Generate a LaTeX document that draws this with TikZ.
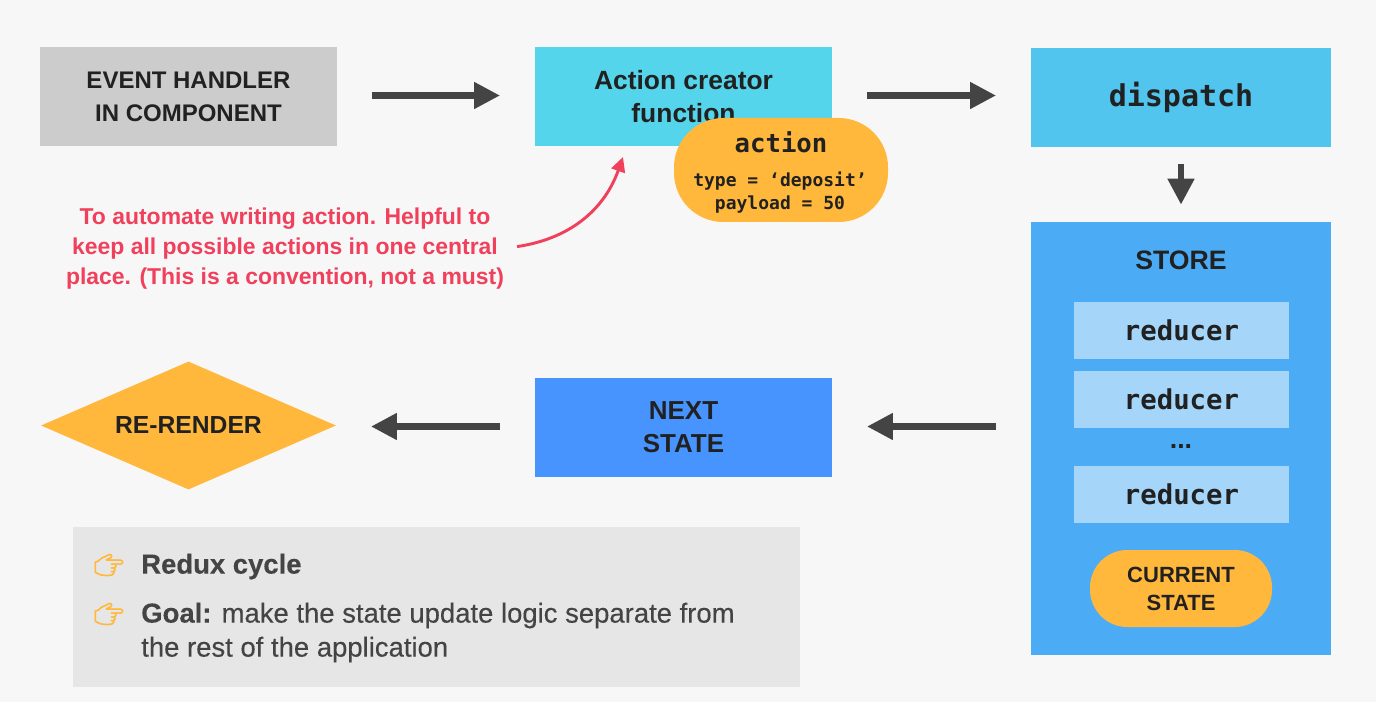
\documentclass[tikz,border=0pt]{standalone}
\usepackage{fontspec}
\usetikzlibrary{arrows.meta,shapes.geometric}
\setmainfont{Liberation Sans}
\setmonofont{DejaVu Sans Mono}
\newfontfamily\emojifont[FakeBold=2.5]{Noto Emoji}
\newfontfamily\mediumfont[FakeBold=0.3]{Liberation Sans}
\definecolor{pagebg}{HTML}{F7F7F7}
\definecolor{inkdark}{HTML}{212121}
\definecolor{inkgrey}{HTML}{444444}
\definecolor{handlergrey}{HTML}{CCCCCC}
\definecolor{creatorcyan}{HTML}{55D5EB}
\definecolor{dispatchblue}{HTML}{51C5ED}
\definecolor{storeblue}{HTML}{4BACF5}
\definecolor{nextblue}{HTML}{4894FF}
\definecolor{reducerblue}{HTML}{A5D6FA}
\definecolor{pillyellow}{HTML}{FFB83B}
\definecolor{noteboxgrey}{HTML}{E6E6E6}
\definecolor{notered}{HTML}{F0405C}
\tikzset{
  flowbox/.style={rectangle,minimum width=222.75pt,minimum height=74.25pt,inner sep=0pt,align=center,text=inkdark,font=\fontsize{18.5}{24.75}\selectfont\bfseries},
  reducerbox/.style={rectangle,fill=reducerblue,minimum width=161.25pt,minimum height=42.75pt,inner sep=0pt,text=inkdark,font=\fontsize{20.5}{24}\selectfont\ttfamily\bfseries},
  pill/.style={rectangle,fill=pillyellow,inner sep=0pt,align=center,text=inkdark},
  flow/.style={-{Triangle[length=19.5pt,width=19pt]},line width=5pt,draw=inkgrey},
  notetext/.style={text=inkgrey,anchor=west,inner sep=0pt,font=\fontsize{20.6}{25.5}\selectfont\mediumfont},
  hand/.style={text=pillyellow,inner sep=0pt,font=\fontsize{18}{18}\selectfont\emojifont},
}
\begin{document}
\begin{tikzpicture}[x=0.75pt,y=0.75pt,yscale=-1,xscale=1]
\useasboundingbox (0,0) rectangle (1376,702);
\fill[pagebg] (0,0) rectangle (1376,702);

% top row
\node (handler) [flowbox,fill=handlergrey,font=\fontsize{18}{24.75}\selectfont\bfseries,text depth=0pt] at (188.5,97) {EVENT HANDLER\\IN COMPONENT};
\node (creator) [flowbox,fill=creatorcyan,font=\fontsize{19.8}{24.75}\selectfont\bfseries] at (683.5,97) {Action creator\\function};
\node (dispatch) [flowbox,fill=dispatchblue,minimum width=225pt,font=\fontsize{22.5}{24}\selectfont\ttfamily\bfseries] at (1181,97.5) {dispatch};
\node (action) [pill,minimum width=160.5pt,minimum height=78pt,rounded corners=37pt] at (781,170) {};
\node (actionname) [text=inkdark,inner sep=0pt,font=\fontsize{19.25}{22}\selectfont\ttfamily\bfseries] at (781,142) {action};
\node (actionbody) [text=inkdark,inner sep=0pt,align=center,font=\fontsize{13.5}{17.25}\selectfont\ttfamily\bfseries] at (780,192.5) {type = ‘deposit’\\payload = 50};

% store
\node (store) [rectangle,fill=storeblue,minimum width=225pt,minimum height=324.75pt,inner sep=0pt] at (1181,438.5) {};
\node (storename) [text=inkdark,inner sep=0pt,font=\fontsize{20}{24}\selectfont\bfseries] at (1181,260) {STORE};
\node (reducera) [reducerbox] at (1181.5,330) {reducer};
\node (reducerb) [reducerbox] at (1181.5,399) {reducer};
\node (dots) [text=inkdark,inner sep=0pt,font=\fontsize{20}{20}\selectfont\bfseries] at (1181,447) {...};
\node (reducerc) [reducerbox] at (1181.5,494) {reducer};
\node (current) [pill,minimum width=136.5pt,minimum height=57.75pt,rounded corners=28pt,font=\fontsize{16.5}{21}\selectfont\bfseries] at (1181,588.5) {CURRENT\\STATE};

% bottom row
\node (next) [flowbox,fill=nextblue,font=\fontsize{19.5}{24.75}\selectfont\bfseries] at (683.5,427.5) {NEXT\\STATE};
\node (render) [diamond,fill=pillyellow,aspect=2.3,minimum width=221.25pt,minimum height=96pt,inner sep=0pt,text=inkdark,font=\fontsize{18.5}{24}\selectfont\bfseries] at (188.5,425.5) {RE-RENDER};

% connectors
\draw[flow,shorten <=26pt,shorten >=26pt] (handler.east |- 0,95.5) -- (creator.west |- 0,95.5);
\draw[flow,shorten <=26pt,shorten >=26pt] (creator.east |- 0,95.5) -- (dispatch.west |- 0,95.5);
\draw[flow,shorten <=12.75pt,shorten >=12.75pt] (dispatch) -- (store);
\draw[flow,shorten <=26pt,shorten >=26pt] (store.west |- 0,426.5) -- (next.east |- 0,426.5);
\draw[flow,shorten <=26pt,shorten >=26pt] (next.west |- 0,426.5) -- (render.east |- 0,426.5);

% red note
\node (why) [text=notered,inner sep=0pt,align=center,font=\fontsize{17.2}{22.5}\selectfont\bfseries] at (285,249) {To automate writing action. Helpful to\\keep all possible actions in one central\\place. (This is a convention, not a must)};
\coordinate (whytip) at (623,157);
\draw[-{Triangle[length=11pt,width=10.5pt]},line width=2.2pt,notered,shorten <=9.75pt] (why.east |- 0,248.5) .. controls (575,238) and (606,205) .. (whytip);

% goal box
\node (goalbox) [rectangle,fill=noteboxgrey,minimum width=545.25pt,minimum height=120pt,inner sep=0pt] at (436.5,607) {};
\node (handa) [hand] at (109,565) {\char"1F449};
\node (handb) [hand] at (109,614) {\char"1F449};
\node (redux) [notetext] at (141,566.5) {\bfseries Redux cycle};
\node (goal) [notetext,align=left] at (141,632.5) {\textbf{Goal:} make the state update logic separate from\\the rest of the application};
\end{tikzpicture}
\end{document}
